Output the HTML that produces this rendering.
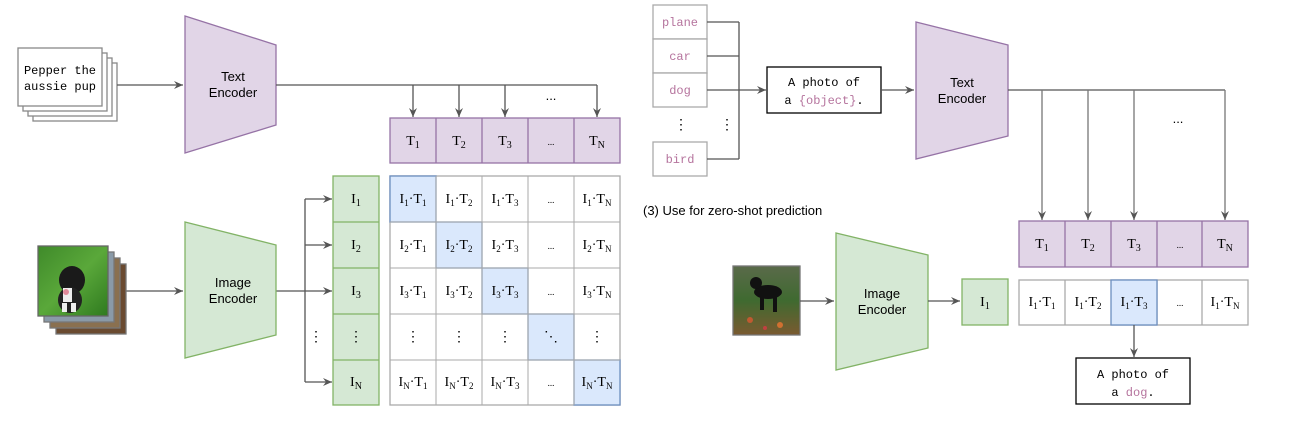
<!DOCTYPE html>
<html><head><meta charset="utf-8"><style>
html,body{margin:0;padding:0;background:#fff;}
svg{display:block}
.s{font-family:"Liberation Serif",serif;font-size:14px;fill:#000;}
.m{font-family:"Liberation Mono",monospace;font-size:12px;fill:#000;}
.a{font-family:"Liberation Sans",sans-serif;font-size:13px;fill:#000;}
.p{fill:#b5739d}
</style></head><body>
<svg width="1297" height="429" viewBox="0 0 1297 429" xmlns="http://www.w3.org/2000/svg">
<defs>
<marker id="ar" markerWidth="10" markerHeight="10" refX="9" refY="5" orient="auto" markerUnits="userSpaceOnUse">
<path d="M0,1 L9,5 L0,9 L3,5 Z" fill="#555"/></marker>
<linearGradient id="g1" x1="0" y1="0" x2="1" y2="1"><stop offset="0" stop-color="#3f8a2a"/><stop offset="0.5" stop-color="#5aa83a"/><stop offset="1" stop-color="#2f7a1f"/></linearGradient>
<linearGradient id="g2" x1="0" y1="0" x2="0" y2="1"><stop offset="0" stop-color="#5a6a4a"/><stop offset="0.5" stop-color="#3f6a30"/><stop offset="1" stop-color="#7a5a30"/></linearGradient>
</defs>
<g stroke="#555" stroke-width="1.3" fill="none">
<rect x="33" y="63" width="84" height="58" fill="#fff" stroke="#888"/>
<rect x="28" y="58" width="84" height="58" fill="#fff" stroke="#888"/>
<rect x="23" y="53" width="84" height="58" fill="#fff" stroke="#888"/>
<rect x="18" y="48" width="84" height="58" fill="#fff" stroke="#888"/>
<line x1="117" y1="85" x2="183" y2="85" marker-end="url(#ar)"/>
<polygon points="185,16 276,45 276,125 185,153" fill="#e1d5e7" stroke="#9673a6"/>
<polyline points="276,85 597,85"/>
<line x1="413" y1="85" x2="413" y2="117" marker-end="url(#ar)"/>
<line x1="459" y1="85" x2="459" y2="117" marker-end="url(#ar)"/>
<line x1="505" y1="85" x2="505" y2="117" marker-end="url(#ar)"/>
<line x1="597" y1="85" x2="597" y2="117" marker-end="url(#ar)"/>
<rect x="390" y="118" width="230" height="45" fill="#e1d5e7" stroke="#9673a6"/>
<line x1="436" y1="118" x2="436" y2="163" stroke="#9673a6"/><line x1="482" y1="118" x2="482" y2="163" stroke="#9673a6"/><line x1="528" y1="118" x2="528" y2="163" stroke="#9673a6"/><line x1="574" y1="118" x2="574" y2="163" stroke="#9673a6"/>
<g stroke="#aaa" fill="#fff">
<rect x="390" y="176" width="230" height="229"/>
</g>
<g fill="#dae8fc" stroke="#6c8ebf">
<rect x="390" y="176" width="46" height="46"/><rect x="436" y="222" width="46" height="46"/><rect x="482" y="268" width="46" height="46"/><rect x="528" y="314" width="46" height="46"/><rect x="574" y="360" width="46" height="45"/>
</g>
<g stroke="#aaa" stroke-width="1">
<line x1="436" y1="176" x2="436" y2="405"/><line x1="482" y1="176" x2="482" y2="405"/><line x1="528" y1="176" x2="528" y2="405"/><line x1="574" y1="176" x2="574" y2="405"/>
<line x1="390" y1="222" x2="620" y2="222"/><line x1="390" y1="268" x2="620" y2="268"/><line x1="390" y1="314" x2="620" y2="314"/><line x1="390" y1="360" x2="620" y2="360"/>
</g>
<rect x="333" y="176" width="46" height="229" fill="#d5e8d4" stroke="#82b366"/>
<g stroke="#82b366"><line x1="333" y1="222" x2="379" y2="222"/><line x1="333" y1="268" x2="379" y2="268"/><line x1="333" y1="314" x2="379" y2="314"/><line x1="333" y1="360" x2="379" y2="360"/></g>
<polyline points="276,291 305,291"/>
<line x1="305" y1="199" x2="305" y2="382"/>
<line x1="305" y1="199" x2="332" y2="199" marker-end="url(#ar)"/>
<line x1="305" y1="245" x2="332" y2="245" marker-end="url(#ar)"/>
<line x1="305" y1="291" x2="332" y2="291" marker-end="url(#ar)"/>
<line x1="305" y1="382" x2="332" y2="382" marker-end="url(#ar)"/>
<polygon points="185,222 276,245 276,335 185,358" fill="#d5e8d4" stroke="#82b366"/>
<line x1="126" y1="291" x2="183" y2="291" marker-end="url(#ar)"/>
<rect x="56" y="264" width="70" height="70" fill="#6a4a30" stroke="#777"/>
<rect x="50" y="258" width="70" height="70" fill="#8a7050" stroke="#777"/>
<rect x="44" y="252" width="70" height="70" fill="#8a9aa8" stroke="#777"/>
<rect x="38" y="246" width="70" height="70" fill="url(#g1)" stroke="#666"/>
<g stroke="none"><ellipse cx="72" cy="280" rx="13" ry="14" fill="#1a1a1a"/><ellipse cx="70" cy="300" rx="12" ry="13" fill="#222"/><rect x="63" y="288" width="9" height="14" fill="#eee"/><rect x="62" y="303" width="5" height="9" fill="#eee"/><rect x="71" y="303" width="5" height="9" fill="#eee"/><circle cx="66" cy="292" r="3" fill="#e08a9a"/></g>
<g stroke="#aaa" fill="#fff">
<rect x="653" y="5" width="54" height="34"/><rect x="653" y="39" width="54" height="34"/><rect x="653" y="73" width="54" height="34"/><rect x="653" y="142" width="54" height="34"/>
</g>
<polyline points="707,22 739,22"/><polyline points="707,56 739,56"/><polyline points="707,159 739,159"/>
<line x1="739" y1="22" x2="739" y2="159"/>
<line x1="707" y1="90" x2="766" y2="90" marker-end="url(#ar)"/>
<rect x="767" y="67" width="114" height="46" fill="#fff" stroke="#000"/>
<line x1="881" y1="90" x2="914" y2="90" marker-end="url(#ar)"/>
<polygon points="916,22 1008,45 1008,136 916,159" fill="#e1d5e7" stroke="#9673a6"/>
<polyline points="1008,90 1225,90"/>
<g stroke="#777">
<line x1="1042" y1="90" x2="1042" y2="220" marker-end="url(#ar)"/>
<line x1="1088" y1="90" x2="1088" y2="220" marker-end="url(#ar)"/>
<line x1="1134" y1="90" x2="1134" y2="220" marker-end="url(#ar)"/>
<line x1="1225" y1="90" x2="1225" y2="220" marker-end="url(#ar)"/>
</g>
<rect x="1019" y="221" width="229" height="46" fill="#e1d5e7" stroke="#9673a6"/>
<g stroke="#9673a6"><line x1="1065" y1="221" x2="1065" y2="267"/><line x1="1111" y1="221" x2="1111" y2="267"/><line x1="1157" y1="221" x2="1157" y2="267"/><line x1="1202" y1="221" x2="1202" y2="267"/></g>
<rect x="1019" y="280" width="229" height="45" fill="#fff" stroke="#aaa"/>
<g stroke="#aaa"><line x1="1065" y1="280" x2="1065" y2="325"/><line x1="1157" y1="280" x2="1157" y2="325"/><line x1="1202" y1="280" x2="1202" y2="325"/></g>
<rect x="1111" y="280" width="46" height="45" fill="#dae8fc" stroke="#6c8ebf"/>
<line x1="1134" y1="325" x2="1134" y2="357" marker-end="url(#ar)"/>
<rect x="1076" y="358" width="114" height="46" fill="#fff" stroke="#000"/>
<rect x="733" y="266" width="67" height="69" fill="url(#g2)" stroke="#777"/>
<g stroke="none"><ellipse cx="768" cy="292" rx="14" ry="7" fill="#111"/><circle cx="756" cy="283" r="6" fill="#111"/><rect x="760" y="294" width="4" height="16" fill="#111"/><rect x="773" y="294" width="4" height="18" fill="#111"/><circle cx="750" cy="320" r="3" fill="#c05a30"/><circle cx="780" cy="325" r="3" fill="#d07030"/><circle cx="765" cy="328" r="2" fill="#c04040"/></g>
<line x1="800" y1="301" x2="834" y2="301" marker-end="url(#ar)"/>
<polygon points="836,233 928,255 928,348 836,370" fill="#d5e8d4" stroke="#82b366"/>
<line x1="928" y1="301" x2="960" y2="301" marker-end="url(#ar)"/>
<rect x="962" y="279" width="46" height="46" fill="#d5e8d4" stroke="#82b366"/>
</g>
<text class="m" x="60" y="74" text-anchor="middle" font-size="11">Pepper the</text>
<text class="m" x="60" y="90" text-anchor="middle" font-size="11">aussie pup</text>
<text class="a" x="233" y="81" text-anchor="middle">Text</text>
<text class="a" x="233" y="97" text-anchor="middle">Encoder</text>
<text class="a" x="233" y="287" text-anchor="middle">Image</text>
<text class="a" x="233" y="303" text-anchor="middle">Encoder</text>
<text class="a" x="551" y="100" text-anchor="middle" font-size="9">...</text>
<g class="s" text-anchor="middle">
<text x="413" y="145">T<tspan font-size="10" dy="3">1</tspan></text>
<text x="459" y="145">T<tspan font-size="10" dy="3">2</tspan></text>
<text x="505" y="145">T<tspan font-size="10" dy="3">3</tspan></text>
<text x="551" y="145" font-size="9">...</text>
<text x="597" y="145">T<tspan font-size="10" dy="3">N</tspan></text>
<text x="356" y="203">I<tspan font-size="10" dy="3">1</tspan></text>
<text x="356" y="249">I<tspan font-size="10" dy="3">2</tspan></text>
<text x="356" y="295">I<tspan font-size="10" dy="3">3</tspan></text>
<text x="356" y="341">⋮</text>
<text x="316" y="341">⋮</text>
<text x="356" y="386">I<tspan font-size="10" dy="3">N</tspan></text>
</g>
<g class="s" text-anchor="middle" font-size="13">
<text x="413" y="203">I<tspan font-size="9" dy="3">1</tspan><tspan dy="-3">·T</tspan><tspan font-size="9" dy="3">1</tspan></text>
<text x="459" y="203">I<tspan font-size="9" dy="3">1</tspan><tspan dy="-3">·T</tspan><tspan font-size="9" dy="3">2</tspan></text>
<text x="505" y="203">I<tspan font-size="9" dy="3">1</tspan><tspan dy="-3">·T</tspan><tspan font-size="9" dy="3">3</tspan></text>
<text x="551" y="203" font-size="9">...</text>
<text x="597" y="203">I<tspan font-size="9" dy="3">1</tspan><tspan dy="-3">·T</tspan><tspan font-size="9" dy="3">N</tspan></text>
<text x="413" y="249">I<tspan font-size="9" dy="3">2</tspan><tspan dy="-3">·T</tspan><tspan font-size="9" dy="3">1</tspan></text>
<text x="459" y="249">I<tspan font-size="9" dy="3">2</tspan><tspan dy="-3">·T</tspan><tspan font-size="9" dy="3">2</tspan></text>
<text x="505" y="249">I<tspan font-size="9" dy="3">2</tspan><tspan dy="-3">·T</tspan><tspan font-size="9" dy="3">3</tspan></text>
<text x="551" y="249" font-size="9">...</text>
<text x="597" y="249">I<tspan font-size="9" dy="3">2</tspan><tspan dy="-3">·T</tspan><tspan font-size="9" dy="3">N</tspan></text>
<text x="413" y="295">I<tspan font-size="9" dy="3">3</tspan><tspan dy="-3">·T</tspan><tspan font-size="9" dy="3">1</tspan></text>
<text x="459" y="295">I<tspan font-size="9" dy="3">3</tspan><tspan dy="-3">·T</tspan><tspan font-size="9" dy="3">2</tspan></text>
<text x="505" y="295">I<tspan font-size="9" dy="3">3</tspan><tspan dy="-3">·T</tspan><tspan font-size="9" dy="3">3</tspan></text>
<text x="551" y="295" font-size="9">...</text>
<text x="597" y="295">I<tspan font-size="9" dy="3">3</tspan><tspan dy="-3">·T</tspan><tspan font-size="9" dy="3">N</tspan></text>
<text x="413" y="341">⋮</text><text x="459" y="341">⋮</text><text x="505" y="341">⋮</text><text x="551" y="341">⋱</text><text x="597" y="341">⋮</text>
<text x="413" y="386">I<tspan font-size="9" dy="3">N</tspan><tspan dy="-3">·T</tspan><tspan font-size="9" dy="3">1</tspan></text>
<text x="459" y="386">I<tspan font-size="9" dy="3">N</tspan><tspan dy="-3">·T</tspan><tspan font-size="9" dy="3">2</tspan></text>
<text x="505" y="386">I<tspan font-size="9" dy="3">N</tspan><tspan dy="-3">·T</tspan><tspan font-size="9" dy="3">3</tspan></text>
<text x="551" y="386" font-size="9">...</text>
<text x="597" y="386">I<tspan font-size="9" dy="3">N</tspan><tspan dy="-3">·T</tspan><tspan font-size="9" dy="3">N</tspan></text>
</g>
<g class="m p" text-anchor="middle">
<text x="680" y="26">plane</text><text x="680" y="60">car</text><text x="680" y="94">dog</text><text x="680" y="163">bird</text>
</g>
<text class="s" x="681" y="129" text-anchor="middle" font-size="12">⋮</text>
<text class="s" x="727" y="129" text-anchor="middle" font-size="12">⋮</text>
<text class="m" x="824" y="86" text-anchor="middle">A photo of</text>
<text class="m" x="824" y="104" text-anchor="middle">a <tspan class="p">{object}</tspan>.</text>
<text class="a" x="962" y="87" text-anchor="middle">Text</text>
<text class="a" x="962" y="103" text-anchor="middle">Encoder</text>
<text class="a" x="643" y="215" font-size="15">(3) Use for zero-shot prediction</text>
<text class="a" x="882" y="298" text-anchor="middle">Image</text>
<text class="a" x="882" y="314" text-anchor="middle">Encoder</text>
<text class="a" x="1178" y="123" text-anchor="middle" font-size="9">...</text>
<g class="s" text-anchor="middle">
<text x="1042" y="248">T<tspan font-size="10" dy="3">1</tspan></text>
<text x="1088" y="248">T<tspan font-size="10" dy="3">2</tspan></text>
<text x="1134" y="248">T<tspan font-size="10" dy="3">3</tspan></text>
<text x="1180" y="248" font-size="9">...</text>
<text x="1225" y="248">T<tspan font-size="10" dy="3">N</tspan></text>
<text x="985" y="306">I<tspan font-size="10" dy="3">1</tspan></text>
</g>
<g class="s" text-anchor="middle" font-size="13">
<text x="1042" y="306">I<tspan font-size="9" dy="3">1</tspan><tspan dy="-3">·T</tspan><tspan font-size="9" dy="3">1</tspan></text>
<text x="1088" y="306">I<tspan font-size="9" dy="3">1</tspan><tspan dy="-3">·T</tspan><tspan font-size="9" dy="3">2</tspan></text>
<text x="1134" y="306">I<tspan font-size="9" dy="3">1</tspan><tspan dy="-3">·T</tspan><tspan font-size="9" dy="3">3</tspan></text>
<text x="1180" y="306" font-size="9">...</text>
<text x="1225" y="306">I<tspan font-size="9" dy="3">1</tspan><tspan dy="-3">·T</tspan><tspan font-size="9" dy="3">N</tspan></text>
</g>
<text class="m" x="1133" y="378" text-anchor="middle">A photo of</text>
<text class="m" x="1133" y="396" text-anchor="middle">a <tspan class="p">dog</tspan>.</text>
</svg>
</body></html>
